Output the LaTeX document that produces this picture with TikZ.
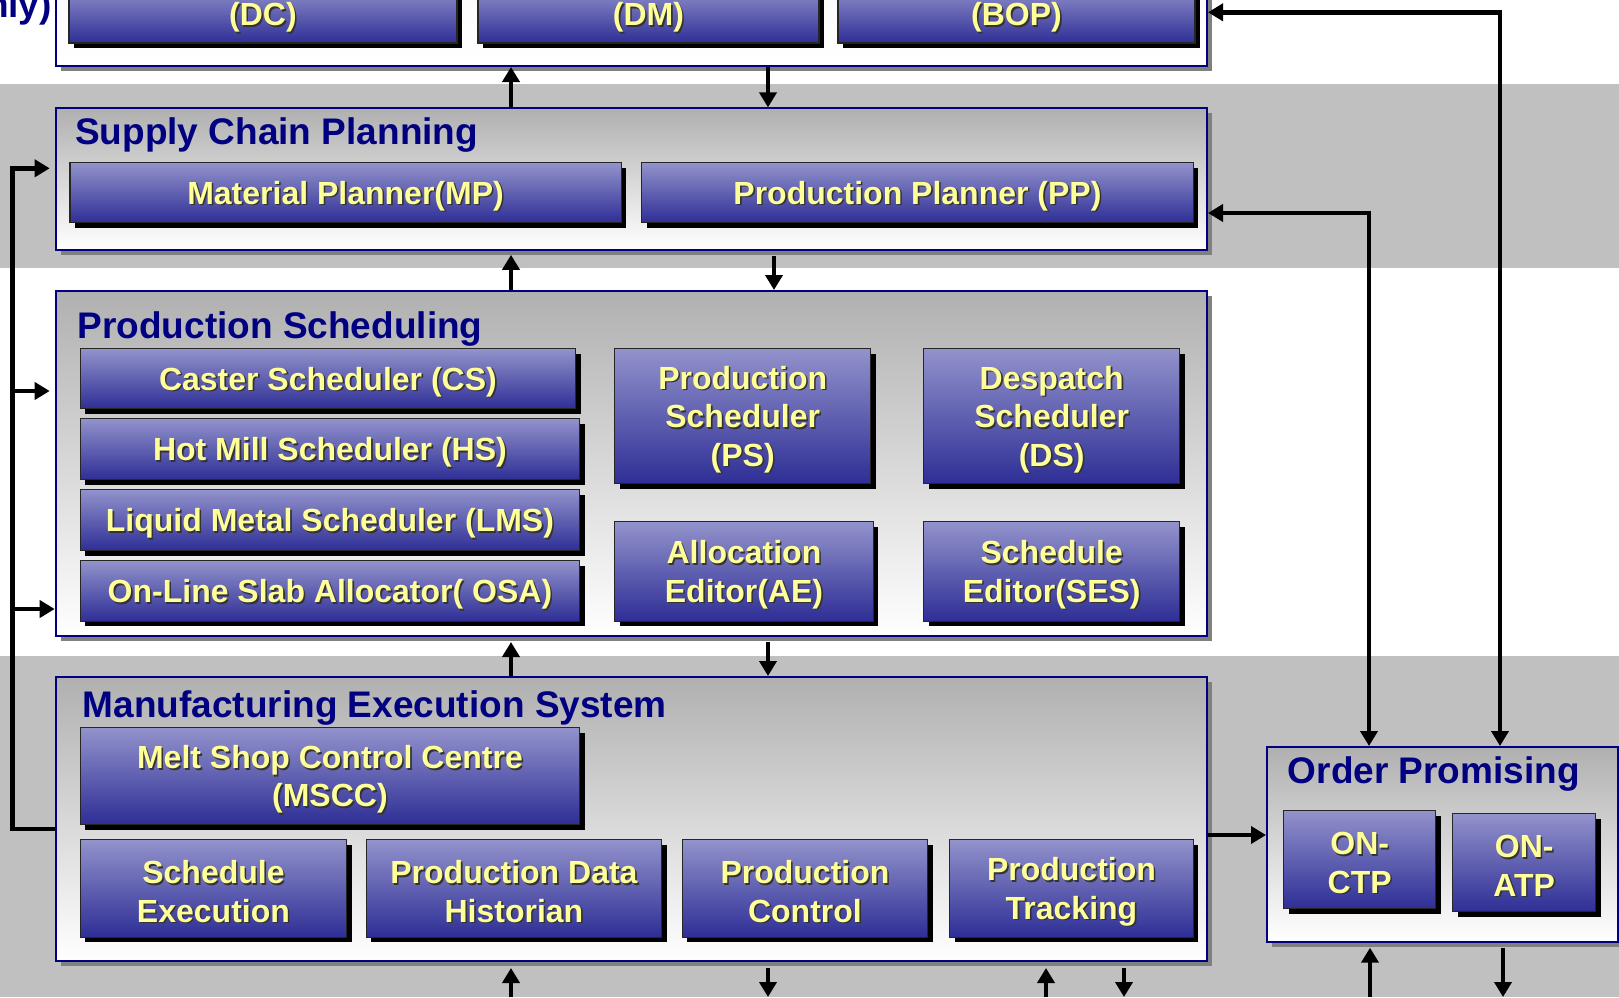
\documentclass[tikz,border=0pt]{standalone}
\usepackage{fontspec}
\setmainfont{Liberation Sans}
\usetikzlibrary{arrows.meta,shadows,calc}
\definecolor{ytext}{RGB}{255,255,153}
\definecolor{navyt}{RGB}{0,0,128}
\definecolor{boxtop}{RGB}{146,146,204}
\definecolor{boxbot}{RGB}{46,46,150}
\definecolor{band}{RGB}{192,192,192}
\definecolor{otop}{RGB}{176,176,176}
\newcommand\tsh[1]{\leavevmode\raisebox{-4pt}[\height][\depth]{\rlap{\kern1.6pt\raisebox{-1.6pt}{\textcolor{black!80}{#1}}}#1}}
\begin{document}
\begin{tikzpicture}[x=1pt,y=-1pt,
  ibox/.style={rectangle, draw=black!85, line width=1.4pt, top color=boxtop, bottom color=boxbot,
    drop shadow={shadow xshift=5pt, shadow yshift=-5pt, fill=black, opacity=1},
    text=ytext, font=\fontsize{32}{38.5}\selectfont\bfseries, align=center, anchor=north west, inner sep=0pt},
  obox/.style={rectangle, draw=navyt, line width=2pt, top color=otop, bottom color=white,
    drop shadow={shadow xshift=5pt, shadow yshift=-5pt, fill=black!50, opacity=1},
    anchor=north west, inner sep=0pt},
  title/.style={text=navyt, font=\fontsize{37}{40}\selectfont\bfseries, anchor=base west, inner sep=0pt},
  arr/.style={line width=4.6pt, -{Triangle[width=17pt,length=15pt]}},
  darr/.style={line width=4.6pt, {Triangle[width=17pt,length=15pt]}-{Triangle[width=17pt,length=15pt]}},
  plain/.style={line width=4.6pt}
]
\useasboundingbox (0,0) rectangle (1619,997);
\clip (0,0) rectangle (1619,997);
\fill[white] (0,0) rectangle (1619,997);
\fill[band] (0,84) rectangle (1619,268);
\fill[band] (0,656) rectangle (1619,997);

% top (cut) box
\node[obox, anchor=south west, minimum width=1151.3pt, minimum height=200pt, top color=white!85!otop] (top) at (54.7,67) {};
\node[ibox, anchor=center, minimum width=388pt, minimum height=57pt] (dc) at (263,14.5) {\tsh{(DC)}};
\node[ibox, anchor=center, minimum width=341pt, minimum height=57pt] (dm) at (648.5,14.5) {\tsh{(DM)}};
\node[ibox, anchor=center, minimum width=357pt, minimum height=57pt] (bop) at (1016.5,14.5) {\tsh{(BOP)}};
\node[title, anchor=base east] (nly) at (52,17) {nly)};

% Supply Chain Planning
\node[obox, minimum width=1151.3pt, minimum height=141.4pt] (scp) at (54.7,107.4) {};
\node[title] (scpt) at (75,144) {Supply Chain Planning};
\node[ibox, minimum width=551.3pt, minimum height=60pt] (mp) at (69.2,162) {\tsh{Material Planner(MP)}};
\node[ibox, minimum width=551.5pt, minimum height=60pt] (pp) at (641,162) {\tsh{Production Planner (PP)}};

% Production Scheduling
\node[obox, minimum width=1151.3pt, minimum height=345pt] (ps) at (54.7,290) {};
\node[title] (pst) at (77.4,338) {Production Scheduling};
\node[ibox, minimum width=495.5pt, minimum height=60pt] (cs) at (79.5,348) {\tsh{Caster Scheduler (CS)}};
\node[ibox, minimum width=499.5pt, minimum height=61pt] (hs) at (79.5,418) {\tsh{Hot Mill Scheduler (HS)}};
\node[ibox, minimum width=499.5pt, minimum height=61pt] (lms) at (79.5,489) {\tsh{Liquid Metal Scheduler (LMS)}};
\node[ibox, minimum width=499.5pt, minimum height=60.5pt] (osa) at (79.5,560) {\tsh{On-Line Slab Allocator( OSA)}};
\node[ibox, minimum width=256pt, minimum height=135pt] (psb) at (614,348) {\tsh{Production}\\\tsh{Scheduler}\\\tsh{(PS)}};
\node[ibox, minimum width=256pt, minimum height=135pt] (ds) at (923,348) {\tsh{Despatch}\\\tsh{Scheduler}\\\tsh{(DS)}};
\node[ibox, minimum width=258.5pt, minimum height=99.5pt] (ae) at (614,521) {\tsh{Allocation}\\\tsh{Editor(AE)}};
\node[ibox, minimum width=256pt, minimum height=99.5pt] (ses) at (923,521) {\tsh{Schedule}\\\tsh{Editor(SES)}};

% Manufacturing Execution System
\node[obox, minimum width=1151.3pt, minimum height=284pt] (mes) at (54.7,676) {};
\node[title] (mest) at (82.6,717) {Manufacturing Execution System};
\node[ibox, minimum width=499.5pt, minimum height=97pt] (mscc) at (79.5,727) {\tsh{Melt Shop Control Centre}\\\tsh{(MSCC)}};
\node[ibox, minimum width=266.5pt, minimum height=97.5pt] (se) at (79.5,839) {\tsh{Schedule}\\\tsh{Execution}};
\node[ibox, minimum width=295.5pt, minimum height=97.5pt] (pdh) at (365.5,839) {\tsh{Production Data}\\\tsh{Historian}};
\node[ibox, minimum width=245.5pt, minimum height=97.5pt] (pc) at (681.5,839) {\tsh{Production}\\\tsh{Control}};
\node[ibox, minimum width=243.5pt, minimum height=97.5pt] (pt) at (949,839) {\tsh{Production}\\\tsh{Tracking}};

% Order Promising
\node[obox, minimum width=351pt, minimum height=194.7pt] (op) at (1266,746) {};
\node[title] (opt) at (1287.7,783) {Order Promising};
\node[ibox, minimum width=152pt, minimum height=98pt] (ctp) at (1283,810) {\tsh{ON-}\\\tsh{CTP}};
\node[ibox, minimum width=143pt, minimum height=98pt] (atp) at (1452,813) {\tsh{ON-}\\\tsh{ATP}};

% connector coordinates
\coordinate (xa) at (511,0);
\coordinate (xb) at (768,0);
\coordinate (xc) at (774,0);
\coordinate (xd) at (1046,0);
\coordinate (xe) at (1124,0);
\coordinate (xf) at (1370,0);
\coordinate (xg) at (1503,0);
\coordinate (bot) at (0,997);
\coordinate (r1) at (1369,213);
\coordinate (r2) at (1500,12.3);
\coordinate (m1) at (0,835);
\coordinate (l1) at (12.4,168.3);
\coordinate (l2) at (12.4,391);
\coordinate (l3) at (12.4,609);
\coordinate (l4) at (12.4,829);

% vertical arrows between layers
\draw[arr] (xa |- scp.north) -- (xa |- top.south);
\draw[arr] (xb |- top.south) -- (xb |- scp.north);
\draw[arr] (xa |- ps.north) -- ($(xa |- scp.south)+(0,4)$);
\draw[arr] ($(xc |- scp.south)+(0,5)$) -- (xc |- ps.north);
\draw[arr] (xa |- mes.north) -- ($(xa |- ps.south)+(0,5)$);
\draw[arr] ($(xb |- ps.south)+(0,5)$) -- (xb |- mes.north);
\draw[arr] (xa |- bot) -- ($(xa |- mes.south)+(0,6)$);
\draw[arr] ($(xb |- mes.south)+(0,6)$) -- (xb |- bot);
\draw[arr] (xd |- bot) -- ($(xd |- mes.south)+(0,6)$);
\draw[arr] ($(xe |- mes.south)+(0,6)$) -- (xe |- bot);
\draw[arr] (xf |- bot) -- ($(xf |- op.south)+(0,5)$);
\draw[arr] ($(xg |- op.south)+(0,5)$) -- (xg |- bot);

% right feedback connectors
\draw[darr] (scp.east |- r1) -- (r1) -- (r1 |- op.north);
\draw[darr] (top.east |- r2) -- (r2) -- (r2 |- op.north);

% MES to Order Promising
\draw[arr] (mes.east |- m1) -- (op.west |- m1);

% left bus
\draw[plain] (l4 -| mes.west) -- (l4) -- ($(l1)+(0,-2.3)$);
\draw[arr, shorten >=5pt] (l1) -- (l1 -| scp.west);
\draw[arr, shorten >=5pt] (l2) -- (l2 -| ps.west);
\draw[arr] (l3) -- (l3 -| ps.west);
\end{tikzpicture}
\end{document}
